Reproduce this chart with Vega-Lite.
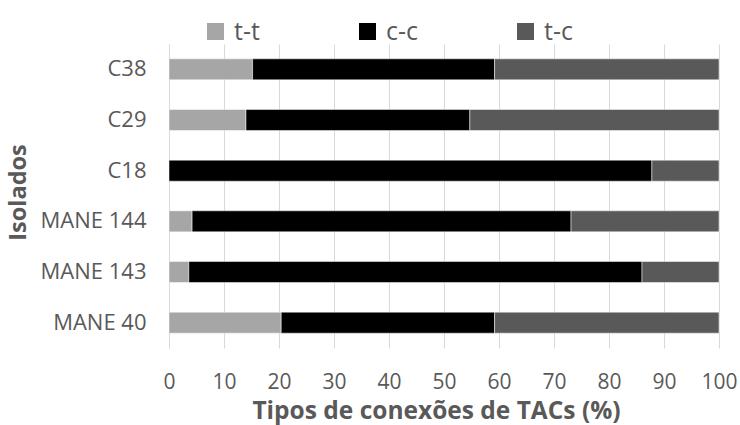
{
  "$schema": "https://vega.github.io/schema/vega-lite/v6.json",
  "autosize": {"type": "none"},
  "width": 550,
  "height": 304,
  "padding": {"left": 169, "top": 44, "right": 21, "bottom": 77},
  "background": "white",
  "config": {
    "view": {"stroke": null},
    "font": "Open Sans"
  },
  "data": {
    "values": [
      {"isolado": "C38", "tipo": "t-t", "ordem": 1, "valor": 15.2},
      {"isolado": "C38", "tipo": "c-c", "ordem": 2, "valor": 44.0},
      {"isolado": "C38", "tipo": "t-c", "ordem": 3, "valor": 40.8},
      {"isolado": "C29", "tipo": "t-t", "ordem": 1, "valor": 14.0},
      {"isolado": "C29", "tipo": "c-c", "ordem": 2, "valor": 40.7},
      {"isolado": "C29", "tipo": "t-c", "ordem": 3, "valor": 45.3},
      {"isolado": "C18", "tipo": "t-t", "ordem": 1, "valor": 0},
      {"isolado": "C18", "tipo": "c-c", "ordem": 2, "valor": 87.8},
      {"isolado": "C18", "tipo": "t-c", "ordem": 3, "valor": 12.2},
      {"isolado": "MANE 144", "tipo": "t-t", "ordem": 1, "valor": 4.2},
      {"isolado": "MANE 144", "tipo": "c-c", "ordem": 2, "valor": 68.9},
      {"isolado": "MANE 144", "tipo": "t-c", "ordem": 3, "valor": 26.9},
      {"isolado": "MANE 143", "tipo": "t-t", "ordem": 1, "valor": 3.6},
      {"isolado": "MANE 143", "tipo": "c-c", "ordem": 2, "valor": 82.4},
      {"isolado": "MANE 143", "tipo": "t-c", "ordem": 3, "valor": 14.0},
      {"isolado": "MANE 40", "tipo": "t-t", "ordem": 1, "valor": 20.4},
      {"isolado": "MANE 40", "tipo": "c-c", "ordem": 2, "valor": 38.8},
      {"isolado": "MANE 40", "tipo": "t-c", "ordem": 3, "valor": 40.8}
    ]
  },
  "mark": {"type": "bar", "stroke": "white", "strokeWidth": 0.5},
  "encoding": {
    "y": {
      "field": "isolado",
      "type": "nominal",
      "sort": ["C38", "C29", "C18", "MANE 144", "MANE 143", "MANE 40"],
      "scale": {"paddingInner": 0.585, "paddingOuter": 0.2925},
      "axis": {
        "title": "Isolados",
        "titleFont": "Open Sans",
        "titleFontSize": 23.5,
        "titleFontWeight": "bold",
        "titleColor": "#595959",
        "titleX": -144,
        "titleY": 148,
        "titleAngle": -90,
        "titleAlign": "center",
        "titleBaseline": "alphabetic",
        "labelFont": "Open Sans",
        "labelFontSize": 22,
        "labelColor": "#595959",
        "labelPadding": 23,
        "ticks": false,
        "tickSize": 0,
        "domain": true,
        "domainColor": "#d9d9d9",
        "grid": false
      }
    },
    "x": {
      "field": "valor",
      "type": "quantitative",
      "stack": "zero",
      "scale": {"domain": [0, 100], "nice": false},
      "axis": {
        "title": "Tipos de conexões de TACs (%)",
        "values": [0, 10, 20, 30, 40, 50, 60, 70, 80, 90, 100],
        "titleFont": "Open Sans",
        "titleFontSize": 24.5,
        "titleFontWeight": "bold",
        "titleColor": "#595959",
        "titleX": 267,
        "titleY": 70,
        "titleAlign": "center",
        "titleBaseline": "alphabetic",
        "labelFont": "Open Sans",
        "labelFontSize": 21,
        "labelColor": "#595959",
        "labelPadding": 23,
        "labelFlush": false,
        "ticks": false,
        "tickSize": 0,
        "domain": false,
        "grid": true,
        "gridColor": "#d9d9d9",
        "gridWidth": 1
      }
    },
    "color": {
      "field": "tipo",
      "type": "nominal",
      "scale": {"domain": ["t-t", "c-c", "t-c"], "range": ["#a6a6a6", "#000000", "#595959"]},
      "legend": {
        "title": null,
        "orient": "none",
        "legendX": 34,
        "legendY": -25,
        "direction": "horizontal",
        "columns": 3,
        "gridAlign": "none",
        "columnPadding": 95,
        "symbolType": "square",
        "symbolSize": 289,
        "symbolStrokeWidth": 0,
        "labelFont": "Open Sans",
        "labelFontSize": 25,
        "labelColor": "#595959",
        "labelOffset": 6
      }
    },
    "order": {"field": "ordem", "type": "quantitative"}
  }
}
